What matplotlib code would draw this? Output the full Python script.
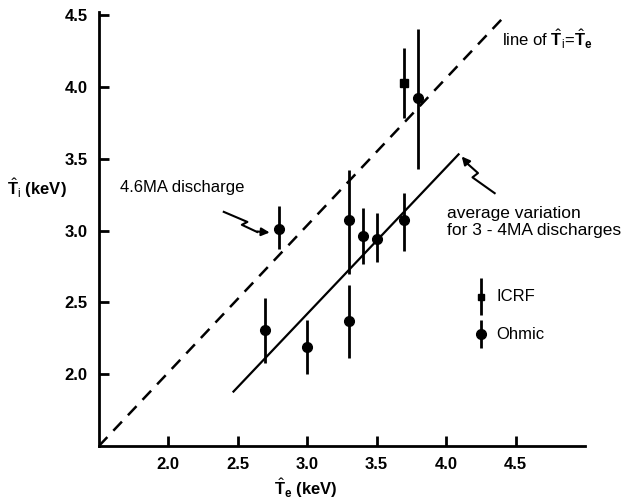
import numpy as np
import matplotlib
matplotlib.use("Agg")
import matplotlib.pyplot as plt

plt.rcParams['font.family'] = ['Liberation Sans', 'DejaVu Sans']
plt.rcParams['mathtext.fontset'] = 'custom'
plt.rcParams['mathtext.rm'] = 'Liberation Sans'
plt.rcParams['mathtext.it'] = 'Liberation Sans'
plt.rcParams['mathtext.bf'] = 'Liberation Sans:bold'

# Ohmic points: Te, Ti, lower and upper end of bar
ohm_te = [2.7, 2.8, 3.0, 3.3, 3.3, 3.4, 3.5, 3.7, 3.8]
ohm_ti = [2.31, 3.01, 2.19, 2.37, 3.07, 2.96, 2.94, 3.07, 3.92]
ohm_lo = [2.08, 2.87, 2.00, 2.11, 2.70, 2.77, 2.78, 2.86, 3.43]
ohm_hi = [2.53, 3.17, 2.38, 2.62, 3.42, 3.16, 3.12, 3.26, 4.40]

# ICRF point
icrf_te = [3.7]
icrf_ti = [4.03]
icrf_lo = [3.78]
icrf_hi = [4.27]

# lines
equal_x = [1.5, 4.43]
equal_y = [1.5, 4.5]
avg_x = [2.47, 4.09]
avg_y = [1.88, 3.53]

xticks = [2.0, 2.5, 3.0, 3.5, 4.0, 4.5]
yticks = [2.0, 2.5, 3.0, 3.5, 4.0, 4.5]

fig = plt.figure(figsize=(6.29, 5.03), dpi=100)
ax = fig.add_axes([0.157, 0.113, 0.773, 0.863])

ax.plot(equal_x, equal_y, color="black", lw=1.8, dashes=(5, 3.5))
ax.plot(avg_x, avg_y, color="black", lw=1.6)

ohm_err = [np.array(ohm_ti) - np.array(ohm_lo), np.array(ohm_hi) - np.array(ohm_ti)]
icrf_err = [np.array(icrf_ti) - np.array(icrf_lo), np.array(icrf_hi) - np.array(icrf_ti)]
ax.errorbar(ohm_te, ohm_ti, yerr=ohm_err, fmt="o", color="black", ms=7, elinewidth=2, capsize=0)
ax.errorbar(icrf_te, icrf_ti, yerr=icrf_err, fmt="s", color="black", ms=6, elinewidth=2, capsize=0)

# legend drawn by hand
ax.errorbar([4.25], [2.54], yerr=[[0.13], [0.13]], fmt="s", color="black", ms=5, elinewidth=2, capsize=0)
ax.errorbar([4.25], [2.28], yerr=[[0.1], [0.1]], fmt="o", color="black", ms=7, elinewidth=2, capsize=0)
ax.text(4.36, 2.54, "ICRF", fontsize=12, va="center")
ax.text(4.36, 2.28, "Ohmic", fontsize=12, va="center")

# labels and notes
ax.text(4.40, 4.33, r"line of $\hat{\mathbf{T}}_{\mathrm{i}}$=$\hat{\mathbf{T}}_{\mathbf{e}}$", fontsize=12, va="center")
ax.text(1.65, 3.27, "4.6MA discharge", fontsize=12)
ax.text(4.01, 3.06, "average variation\nfor 3 - 4MA discharges", fontsize=12.5, linespacing=1.1, va="center")

# zig-zag pointers
zz1_x = [2.40, 2.57, 2.53, 2.64]
zz1_y = [3.13, 3.06, 3.04, 2.99]
ax.plot(zz1_x, zz1_y, color="black", lw=1.5)
ax.annotate("", xy=(2.75, 2.985), xytext=(2.62, 2.995),
            arrowprops=dict(arrowstyle="-|>", color="black", lw=1.5, mutation_scale=12))
zz2_x = [4.35, 4.19, 4.23, 4.16]
zz2_y = [3.26, 3.37, 3.40, 3.46]
ax.plot(zz2_x, zz2_y, color="black", lw=1.5)
ax.annotate("", xy=(4.10, 3.53), xytext=(4.17, 3.45),
            arrowprops=dict(arrowstyle="-|>", color="black", lw=1.5, mutation_scale=12))

ax.set_xlim(1.5, 5.0)
ax.set_ylim(1.5, 4.52)
ax.set_xticks(xticks)
ax.set_yticks(yticks)
ax.set_xticklabels([f"{t:.1f}" for t in xticks], fontweight="bold", fontsize=12)
ax.set_yticklabels([f"{t:.1f}" for t in yticks], fontweight="bold", fontsize=12)
ax.tick_params(direction="in", length=7, width=2, pad=8)
ax.spines["top"].set_visible(False)
ax.spines["right"].set_visible(False)
ax.spines["left"].set_linewidth(2)
ax.spines["bottom"].set_linewidth(2)

ax.set_xlabel(r"$\hat{\mathbf{T}}_{\mathbf{e}}$ (keV)", fontsize=12, fontweight="bold", va="center")
ax.xaxis.set_label_coords(0.426, -0.097)
ax.set_ylabel(r"$\hat{\mathbf{T}}_{\mathrm{i}}$ (keV)", fontsize=12, fontweight="bold", rotation=0,
              va="center", ha="center")
ax.yaxis.set_label_coords(-0.127, 0.594)

fig.savefig("out.png", dpi=100)
